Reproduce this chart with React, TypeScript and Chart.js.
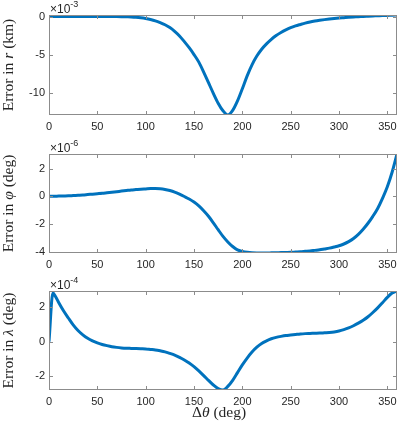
import React, { useEffect, useRef } from 'react';
import { Chart, registerables } from 'chart.js';

Chart.register(...registerables);

// Δθ samples (deg)
const thetaDeg = [0, 4, 7, 10, 15, 20, 25, 30, 35, 40, 45, 50, 55, 60, 65, 70, 75, 80, 85, 90, 95, 100, 105, 110, 115, 120, 125, 130, 135, 140, 145, 150, 155, 160, 165, 170, 175, 180, 185, 190, 195, 200, 205, 210, 215, 220, 225, 230, 235, 240, 245, 250, 255, 260, 265, 270, 275, 280, 285, 290, 295, 300, 305, 310, 315, 320, 325, 330, 335, 340, 345, 350, 355, 360];

// Error in r (×1e-3 km)
const errR = [0, 0, 0, 0, 0, 0, 0, 0, 0, 0, 0, 0, 0, 0, -0.01, -0.01, -0.02, -0.04, -0.06, -0.1, -0.17, -0.27, -0.4, -0.57, -0.8, -1.08, -1.45, -1.95, -2.55, -3.3, -4.1, -5.0, -6.0, -7.3, -8.7, -10.1, -11.4, -12.4, -12.95, -12.35, -11.1, -9.5, -7.8, -6.35, -5.2, -4.3, -3.6, -3.0, -2.5, -2.1, -1.76, -1.47, -1.24, -1.05, -0.87, -0.72, -0.6, -0.5, -0.41, -0.33, -0.26, -0.2, -0.15, -0.1, -0.06, -0.03, 0.01, 0.04, 0.07, 0.1, 0.13, 0.15, 0.18, 0.2];

// Error in φ (×1e-6 deg)
const errPhi = [0, 0, 0.005, 0.01, 0.02, 0.03, 0.05, 0.07, 0.09, 0.12, 0.15, 0.18, 0.21, 0.25, 0.29, 0.33, 0.37, 0.41, 0.45, 0.48, 0.51, 0.53, 0.55, 0.56, 0.54, 0.49, 0.41, 0.3, 0.15, -0.02, -0.2, -0.42, -0.7, -1.05, -1.45, -1.92, -2.42, -2.9, -3.3, -3.63, -3.87, -3.98, -4.05, -4.09, -4.1, -4.1, -4.1, -4.09, -4.08, -4.07, -4.06, -4.05, -4.03, -4.01, -3.98, -3.95, -3.91, -3.87, -3.81, -3.75, -3.67, -3.58, -3.45, -3.28, -3.05, -2.75, -2.38, -1.95, -1.45, -0.88, -0.15, 0.68, 1.75, 3.05];

// Error in λ (×1e-4 deg)
const errLambda = [0, 2.83, 2.6, 2.28, 1.8, 1.38, 0.98, 0.65, 0.4, 0.2, 0.05, -0.07, -0.16, -0.23, -0.29, -0.33, -0.36, -0.38, -0.39, -0.4, -0.41, -0.42, -0.45, -0.48, -0.53, -0.59, -0.68, -0.78, -0.91, -1.06, -1.24, -1.45, -1.7, -1.97, -2.25, -2.52, -2.73, -2.81, -2.6, -2.25, -1.8, -1.35, -0.95, -0.6, -0.32, -0.1, 0.05, 0.17, 0.25, 0.31, 0.36, 0.39, 0.42, 0.45, 0.47, 0.48, 0.49, 0.5, 0.52, 0.54, 0.57, 0.62, 0.7, 0.8, 0.93, 1.08, 1.25, 1.45, 1.7, 1.97, 2.27, 2.58, 2.83, 2.95];

const xTicks = [0, 50, 100, 150, 200, 250, 300, 350];
const rTicks = [-10, -5, 0];
const phiTicks = [-4, -2, 0, 2];
const lambdaTicks = [-2, 0, 2];

const BOX_COLOR = '#8c8c8c';
const TEXT_COLOR = '#262626';
const LINE_COLOR = '#0072BD';
const SANS = '"Liberation Sans", Arial, sans-serif';
const SERIF = '"Liberation Serif", "Times New Roman", serif';

type Seg = { t: string; i?: boolean };

const decoPlugin = {
  id: 'deco',
  afterDraw(chart: any, _args: any, opts: any) {
    const ctx = chart.ctx as CanvasRenderingContext2D;
    const a = chart.chartArea;
    const xs = chart.scales.x;
    const ys = chart.scales.y;
    ctx.save();
    // box
    ctx.strokeStyle = BOX_COLOR;
    ctx.lineWidth = 1;
    ctx.strokeRect(Math.round(a.left) + 0.5, Math.round(a.top) + 0.5, Math.round(a.right - a.left) - 1, Math.round(a.bottom - a.top) - 1);
    const tl = 4;
    ctx.beginPath();
    for (const v of xTicks) {
      const px = Math.round(xs.getPixelForValue(v)) + 0.5;
      ctx.moveTo(px, a.bottom);
      ctx.lineTo(px, a.bottom - tl);
      ctx.moveTo(px, a.top);
      ctx.lineTo(px, a.top + tl);
    }
    for (const v of opts.yTicks as number[]) {
      const py = Math.round(ys.getPixelForValue(v)) + 0.5;
      ctx.moveTo(a.left, py);
      ctx.lineTo(a.left + tl, py);
      ctx.moveTo(a.right, py);
      ctx.lineTo(a.right - tl, py);
    }
    ctx.stroke();

    // exponent label
    ctx.fillStyle = TEXT_COLOR;
    ctx.textBaseline = 'alphabetic';
    ctx.textAlign = 'left';
    ctx.font = `12px ${SANS}`;
    const ex = a.left + 1;
    const ey = a.top - 2.5;
    ctx.fillText('×10', ex, ey);
    const w = ctx.measureText('×10').width;
    ctx.font = `9px ${SANS}`;
    ctx.fillText(opts.exp, ex + w, ey - 6);

    // labels with mixed upright/italic segments
    const drawSegs = (segs: Seg[], size: number) => {
      let total = 0;
      const widths: number[] = [];
      for (const s of segs) {
        ctx.font = `${s.i ? 'italic ' : ''}${size}px ${SERIF}`;
        const wd = ctx.measureText(s.t).width;
        widths.push(wd);
        total += wd;
      }
      let x = -total / 2;
      segs.forEach((s, k) => {
        ctx.font = `${s.i ? 'italic ' : ''}${size}px ${SERIF}`;
        ctx.fillText(s.t, x, 0);
        x += widths[k];
      });
    };
    ctx.save();
    ctx.translate(12.5, (a.top + a.bottom) / 2);
    ctx.rotate(-Math.PI / 2);
    drawSegs(opts.ylabel as Seg[], 15.5);
    ctx.restore();

    if (opts.xlabel) {
      ctx.save();
      ctx.translate(opts.xlabelX, opts.xlabelY);
      drawSegs(opts.xlabel as Seg[], 15.5);
      ctx.restore();
    }
    ctx.restore();
  },
};

type PanelCfg = {
  top: number;
  height: number;
  areaTop: number;
  areaBottom: number;
  values: number[];
  yTicks: number[];
  exp: string;
  ylabel: Seg[];
  xlabel?: Seg[];
};

// canvases overlap a little so that the exponent text is never cut
const panels: PanelCfg[] = [
  { top: 0, height: 140, areaTop: 15, areaBottom: 115, values: errR, yTicks: rTicks, exp: '-3', ylabel: [{ t: 'Error in ' }, { t: 'r', i: true }, { t: ' (km)' }] },
  { top: 130, height: 150, areaTop: 24, areaBottom: 123, values: errPhi, yTicks: phiTicks, exp: '-6', ylabel: [{ t: 'Error in ' }, { t: 'φ', i: true }, { t: ' (deg)' }] },
  { top: 270, height: 155, areaTop: 21, areaBottom: 120, values: errLambda, yTicks: lambdaTicks, exp: '-4', ylabel: [{ t: 'Error in ' }, { t: 'λ', i: true }, { t: ' (deg)' }], xlabel: [{ t: 'Δ' }, { t: 'θ', i: true }, { t: ' (deg)' }] },
];

function makeChart(canvas: HTMLCanvasElement, p: PanelCfg) {
  const tickFont = { family: SANS, size: 11 };
  return new Chart(canvas, {
    type: 'line',
    data: {
      datasets: [
        {
          data: thetaDeg.map((x, i) => ({ x, y: p.values[i] })),
          borderColor: LINE_COLOR,
          borderWidth: 3,
          pointRadius: 0,
          cubicInterpolationMode: 'monotone',
          fill: false,
        },
      ],
    },
    options: {
      animation: false,
      responsive: false,
      maintainAspectRatio: false,
      events: [],
      layout: { padding: { top: p.areaTop, left: 0, right: 2, bottom: 0 } },
      plugins: {
        legend: { display: false },
        tooltip: { enabled: false },
        deco: { yTicks: p.yTicks, exp: p.exp, ylabel: p.ylabel, xlabel: p.xlabel, xlabelX: 219, xlabelY: 147 },
      } as any,
      scales: {
        x: {
          type: 'linear',
          min: 0,
          max: 360,
          grid: { display: false, drawTicks: false },
          border: { display: false },
          ticks: { font: tickFont, color: TEXT_COLOR, padding: 5, maxRotation: 0, autoSkip: false, callback: (v: any) => String(v) },
          afterBuildTicks: (s: any) => {
            s.ticks = xTicks.map((v) => ({ value: v }));
          },
          afterFit: (s: any) => {
            s.height = p.height - p.areaBottom;
            s.paddingLeft = 0;
            s.paddingRight = 0;
          },
        },
        y: {
          type: 'linear',
          min: Math.min(...p.values),
          max: Math.max(...p.values),
          grid: { display: false, drawTicks: false },
          border: { display: false },
          ticks: { font: tickFont, color: TEXT_COLOR, padding: 4, autoSkip: false, callback: (v: any) => String(v) },
          afterBuildTicks: (s: any) => {
            s.ticks = p.yTicks.map((v) => ({ value: v }));
          },
          afterFit: (s: any) => {
            s.width = 49;
            s.paddingTop = 0;
            s.paddingBottom = 0;
          },
        },
      },
    } as any,
    plugins: [decoPlugin],
  });
}

export default function App() {
  const r0 = useRef<HTMLCanvasElement>(null);
  const r1 = useRef<HTMLCanvasElement>(null);
  const r2 = useRef<HTMLCanvasElement>(null);
  useEffect(() => {
    const refs = [r0, r1, r2];
    const charts = panels.map((p, i) => makeChart(refs[i].current as HTMLCanvasElement, p));
    return () => charts.forEach((c) => c.destroy());
  }, []);
  const refs = [r0, r1, r2];
  return (
    <div style={{ position: 'absolute', left: 0, top: 0, width: 399, height: 425, background: '#fff' }}>
      {panels.map((p, i) => (
        <canvas
          key={i}
          ref={refs[i]}
          width={399}
          height={p.height}
          style={{ position: 'absolute', left: 0, top: p.top, width: 399, height: p.height, display: 'block' }}
        />
      ))}
    </div>
  );
}
